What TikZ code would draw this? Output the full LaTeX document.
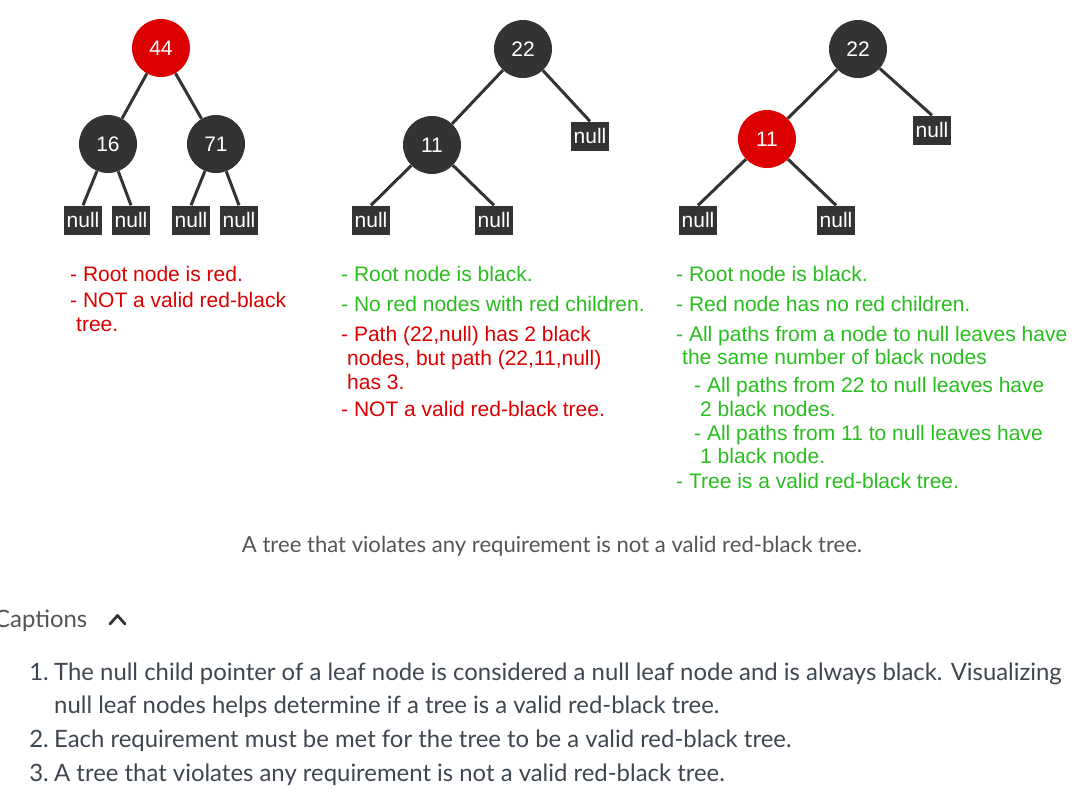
\documentclass[tikz,border=0pt]{standalone}
\usepackage{fontspec}
\setmainfont{Liberation Sans}
\newfontfamily\capfont{Lato}
\definecolor{nodegray}{HTML}{333333}
\definecolor{rbred}{HTML}{DD0000}
\definecolor{okgreen}{RGB}{40,190,30}
\definecolor{capgray}{HTML}{555555}
\definecolor{listgray}{HTML}{3E4650}
\begin{document}
\begin{tikzpicture}[x=1pt,y=-1pt,
  blk/.style={circle,fill=nodegray,minimum size=58pt,inner sep=0pt,text=white,font=\fontsize{21}{21}\selectfont},
  rdn/.style={blk,fill=rbred},
  nul/.style={rectangle,fill=nodegray,minimum width=38pt,minimum height=29pt,inner sep=0pt,text=white,font=\fontsize{21}{21}\selectfont},
  edge/.style={draw=nodegray,line width=3pt},
  txt/.style={anchor=base west,inner sep=0pt,font=\fontsize{21}{21}\selectfont},
  bad/.style={txt,text=rbred},
  good/.style={txt,text=okgreen},
  captxt/.style={inner sep=0pt,font=\capfont\fontsize{22.1}{22}\selectfont,text=capgray},
  lst/.style={anchor=base west,inner sep=0pt,font=\capfont\fontsize{23.9}{24}\selectfont,text=listgray},
  lnum/.style={lst,anchor=base east}]
\useasboundingbox[fill=white] (0,0) rectangle (1087,801);
% Tree 1
\node[rdn] (a44) at (161,48) {44};
\node[blk] (a16) at (108,144) {16};
\node[blk] (a71) at (216,144) {71};
\node[nul] (an1) at (83,220) {null};
\node[nul] (an2) at (131,220) {null};
\node[nul] (an3) at (191,220) {null};
\node[nul] (an4) at (239,220) {null};
\draw[edge] (a44) -- (a16);
\draw[edge] (a44) -- (a71);
\draw[edge] (a16) -- (an1.north);
\draw[edge] (a16) -- (an2.north);
\draw[edge] (a71) -- (an3.north);
\draw[edge] (a71) -- (an4.north);
% Tree 2
\node[blk] (b22) at (523,49) {22};
\node[blk] (b11) at (432,145) {11};
\node[nul] (bn0) at (590,136) {null};
\node[nul] (bn1) at (371,220) {null};
\node[nul] (bn2) at (494,220) {null};
\draw[edge] (b22) -- (b11);
\draw[edge] (b22) -- (bn0.north);
\draw[edge] (b11) -- (bn1.north);
\draw[edge] (b11) -- (bn2.north);
% Tree 3
\node[blk] (c22) at (858,49) {22};
\node[rdn] (c11) at (767,139) {11};
\node[nul] (cn0) at (932,130) {null};
\node[nul] (cn1) at (698,220) {null};
\node[nul] (cn2) at (836,220) {null};
\draw[edge] (c22) -- (c11);
\draw[edge] (c22) -- (cn0.north);
\draw[edge] (c11) -- (cn1.north);
\draw[edge] (c11) -- (cn2.north);
% Texts tree 1
\node[bad] (t11) at (70,281) {- Root node is red.};
\node[bad] (t12) at (70,307) {- NOT a valid red-black};
\node[bad] (t13) at (76,331) {tree.};
% Texts tree 2
\node[good] (t21) at (341,281) {- Root node is black.};
\node[good] (t22) at (341,311) {- No red nodes with red children.};
\node[bad] (t23) at (341,341) {- Path (22,null) has 2 black};
\node[bad] (t24) at (347,365) {nodes, but path (22,11,null)};
\node[bad] (t25) at (347,389) {has 3.};
\node[bad] (t26) at (341,416) {- NOT a valid red-black tree.};
% Texts tree 3
\node[good] (t31) at (676,281) {- Root node is black.};
\node[good] (t32) at (676,311) {- Red node has no red children.};
\node[good] (t33) at (676,341) {- All paths from a node to null leaves have};
\node[good] (t34) at (682,364) {the same number of black nodes};
\node[good] (t35) at (694,392) {- All paths from 22 to null leaves have};
\node[good] (t36) at (700,416) {2 black nodes.};
\node[good] (t37) at (694,440) {- All paths from 11 to null leaves have};
\node[good] (t38) at (700,463) {1 black node.};
\node[good] (t39) at (676,488) {- Tree is a valid red-black tree.};
% Caption
\node[captxt,anchor=base] (capt) at (552,552) {A tree that violates any requirement is not a valid red-black tree.};
\node[captxt,anchor=base west,font=\capfont\fontsize{23.9}{24}\selectfont] (caps) at (-6,627) {Captions};
\coordinate (chl) at (110,624);
\coordinate (chm) at (117.5,615.5);
\coordinate (chr) at (125,624);
\draw[draw=nodegray,line width=2.8pt,line cap=round,line join=round] (chl) -- (chm) -- (chr);
% List
\node[lnum] (n1) at (49,680) {1.};
\node[lst] (l1) at (54,680) {The null child pointer of a leaf node is considered a null leaf node and is always black. Visualizing};
\node[lst] (l1b) at (54,713) {null leaf nodes helps determine if a tree is a valid red-black tree.};
\node[lnum] (n2) at (49,747) {2.};
\node[lst] (l2) at (54,747) {Each requirement must be met for the tree to be a valid red-black tree.};
\node[lnum] (n3) at (49,781) {3.};
\node[lst] (l3) at (54,781) {A tree that violates any requirement is not a valid red-black tree.};
\end{tikzpicture}
\end{document}
